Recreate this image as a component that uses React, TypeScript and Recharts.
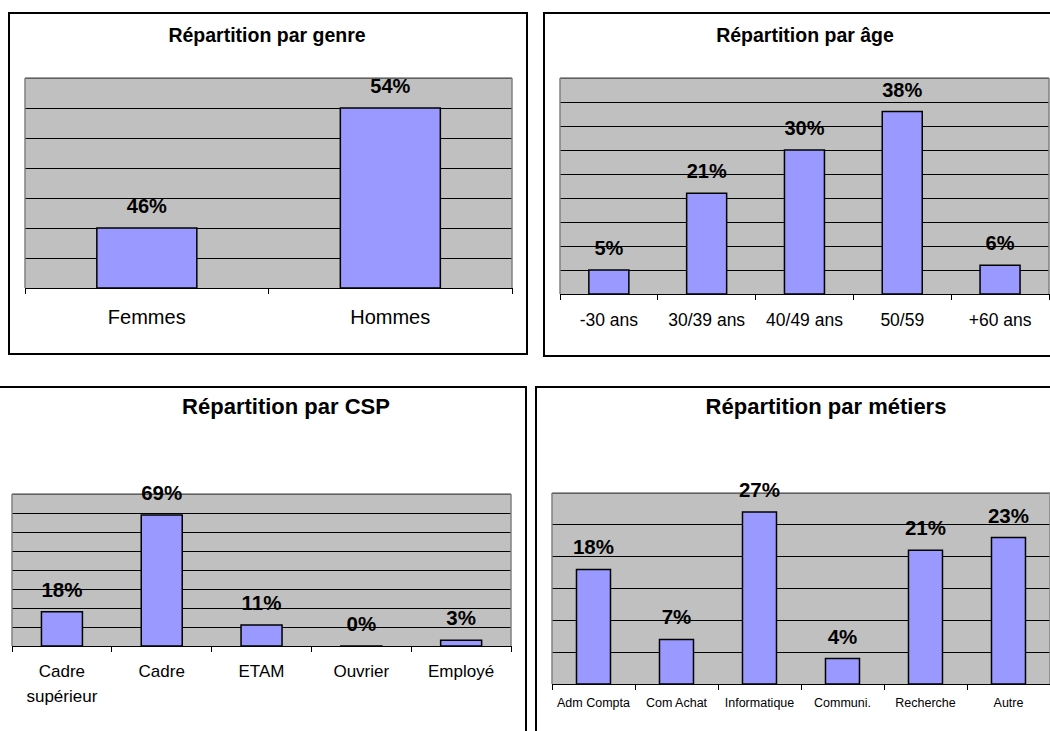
import React from 'react';
import { BarChart, Bar, XAxis, YAxis, CartesianGrid, LabelList } from 'recharts';

const FONT = 'Arial, "Liberation Sans", sans-serif';

// Répartition par genre
const genreCats = ['Femmes', 'Hommes'];
const genreValues = [46, 54];
const genreTicks = [42, 44, 46, 48, 50, 52, 54];
const genreDomain = [42, 56];

// Répartition par âge
const ageCats = ['-30 ans', '30/39 ans', '40/49 ans', '50/59', '+60 ans'];
const ageValues = [5, 21, 30, 38, 6];
const ageTicks = [0, 5, 10, 15, 20, 25, 30, 35, 40];
const ageDomain = [0, 45];

// Répartition par CSP
const cspCats = ['Cadre\nsupérieur', 'Cadre', 'ETAM', 'Ouvrier', 'Employé'];
const cspValues = [18, 69, 11, 0, 3];
const cspTicks = [0, 10, 20, 30, 40, 50, 60, 70];
const cspDomain = [0, 80];

// Répartition par métiers
const metierCats = ['Adm Compta', 'Com Achat', 'Informatique', 'Communi.', 'Recherche', 'Autre'];
const metierValues = [18, 7, 27, 4, 21, 23];
const metierTicks = [0, 5, 10, 15, 20, 25];
const metierDomain = [0, 30];

type Box = { x: number; y: number; w: number; h: number };
type Plot = { l: number; t: number; r: number; b: number };

type PanelProps = {
  box: Box;
  plot: Plot;
  title: string;
  titleSize: number;
  titleX: number;
  titleY: number;
  cats: string[];
  values: number[];
  ticks: number[];
  domain: number[];
  tickFont: number;
  tickDy: number;
  lineGap?: number;
  labelFont: number;
};

// axes need a non-zero size to be drawn
const AX = 1;

// y ticks must stay "on" so the grid gets its lines, but draw nothing
const NoTick = () => <g />;

const makeTick = (fontSize: number, dy: number, lineGap: number) => (props: any) => {
  const { x, y, payload, index, visibleTicksCount } = props;
  const half = payload.offset ?? 0;
  const lines = String(payload.value).split('\n');
  return (
    <g>
      <line x1={x - half} x2={x - half} y1={y} y2={y + 6} stroke="#000" strokeWidth={1} shapeRendering="crispEdges" />
      {index === visibleTicksCount - 1 && (
        <line x1={x + half} x2={x + half} y1={y} y2={y + 6} stroke="#000" strokeWidth={1} shapeRendering="crispEdges" />
      )}
      <text x={x} y={y + dy + fontSize * 0.35} textAnchor="middle" fontSize={fontSize} fill="#000" fontFamily={FONT}>
        {lines.map((l, i) => (
          <tspan key={i} x={x} dy={i === 0 ? 0 : lineGap}>
            {l}
          </tspan>
        ))}
      </text>
    </g>
  );
};

const makeLabel = (fontSize: number) => (props: any) => {
  const { x, y, width, value } = props;
  return (
    <text
      x={x + width / 2}
      y={y - 15}
      textAnchor="middle"
      fontSize={fontSize}
      fontWeight="bold"
      fill="#000"
      fontFamily={FONT}
    >
      {value}%
    </text>
  );
};

function Panel(p: PanelProps) {
  const data = p.cats.map((name, i) => ({ name, v: p.values[i] }));
  const margin = {
    left: p.plot.l - p.box.x - AX,
    top: p.plot.t - p.box.y - AX,
    right: p.box.x + p.box.w - p.plot.r - AX,
    bottom: p.box.y + p.box.h - p.plot.b - AX,
  };
  return (
    <div style={{ position: 'absolute', left: p.box.x, top: p.box.y, width: p.box.w, height: p.box.h }}>
      <BarChart width={p.box.w} height={p.box.h} data={data} margin={margin} barCategoryGap="29.5%">
        <CartesianGrid
          vertical={false}
          fill="#C0C0C0"
          fillOpacity={1}
          stroke="#000"
          strokeWidth={1}
          shapeRendering="crispEdges"
        />
        <XAxis
          dataKey="name"
          height={AX}
          interval={0}
          axisLine={{ stroke: '#000', strokeWidth: 1, shapeRendering: 'crispEdges' }}
          tickLine={false}
          tickSize={0}
          tickMargin={0}
          tick={makeTick(p.tickFont, p.tickDy, p.lineGap ?? 25)}
        />
        <XAxis
          xAxisId="top"
          orientation="top"
          dataKey="name"
          height={AX}
          axisLine={{ stroke: '#808080', strokeWidth: 1.5 }}
          tick={false}
          tickLine={false}
        />
        <YAxis
          width={AX}
          domain={p.domain}
          ticks={p.ticks}
          interval={0}
          axisLine={{ stroke: '#808080', strokeWidth: 1.5 }}
          tick={NoTick}
          tickLine={false}
        />
        <YAxis
          yAxisId="right"
          orientation="right"
          width={AX}
          domain={p.domain}
          axisLine={{ stroke: '#808080', strokeWidth: 1.5 }}
          tick={false}
          tickLine={false}
        />
        <Bar
          dataKey="v"
          fill="#9999FF"
          stroke="#000"
          strokeWidth={1.5}
          minPointSize={(v: number) => (v === 0 ? 0.01 : 0)}
          isAnimationActive={false}
        >
          <LabelList dataKey="v" content={makeLabel(p.labelFont)} />
        </Bar>
      </BarChart>
      <div
        style={{
          position: 'absolute',
          left: 0,
          top: 0,
          width: p.box.w,
          height: p.box.h,
          border: '2px solid #000',
          boxSizing: 'border-box',
          pointerEvents: 'none',
        }}
      />
      <div
        style={{
          position: 'absolute',
          left: p.titleX - p.box.x,
          top: p.titleY - p.box.y,
          transform: 'translate(-50%, -50%)',
          whiteSpace: 'nowrap',
          fontFamily: FONT,
          fontWeight: 'bold',
          fontSize: p.titleSize,
          color: '#000',
          lineHeight: 1,
        }}
      >
        {p.title}
      </div>
    </div>
  );
}

export default function App() {
  return (
    <div
      style={{
        position: 'absolute',
        left: 0,
        top: 0,
        width: 1050,
        height: 731,
        overflow: 'hidden',
        background: '#fff',
        fontFamily: FONT,
      }}
    >
      <Panel
        box={{ x: 8, y: 12, w: 520, h: 343 }}
        plot={{ l: 25, t: 78, r: 512, b: 288 }}
        title="Répartition par genre"
        titleSize={19.5}
        titleX={267}
        titleY={36}
        cats={genreCats}
        values={genreValues}
        ticks={genreTicks}
        domain={genreDomain}
        tickFont={20}
        tickDy={29}
        labelFont={20}
      />
      <Panel
        box={{ x: 543, y: 12, w: 524, h: 345 }}
        plot={{ l: 560, t: 78, r: 1049, b: 294 }}
        title="Répartition par âge"
        titleSize={19.5}
        titleX={805}
        titleY={36}
        cats={ageCats}
        values={ageValues}
        ticks={ageTicks}
        domain={ageDomain}
        tickFont={17.5}
        tickDy={26}
        labelFont={20}
      />
      <Panel
        box={{ x: -4, y: 386, w: 531, h: 360 }}
        plot={{ l: 12, t: 494, r: 511, b: 646 }}
        title="Répartition par CSP"
        titleSize={22}
        titleX={286}
        titleY={407}
        cats={cspCats}
        values={cspValues}
        ticks={cspTicks}
        domain={cspDomain}
        tickFont={17}
        tickDy={25.5}
        lineGap={25}
        labelFont={20.5}
      />
      <Panel
        box={{ x: 535, y: 386, w: 535, h: 360 }}
        plot={{ l: 552, t: 493, r: 1050, b: 684 }}
        title="Répartition par métiers"
        titleSize={22}
        titleX={826}
        titleY={407}
        cats={metierCats}
        values={metierValues}
        ticks={metierTicks}
        domain={metierDomain}
        tickFont={12.5}
        tickDy={19}
        labelFont={20.5}
      />
    </div>
  );
}
